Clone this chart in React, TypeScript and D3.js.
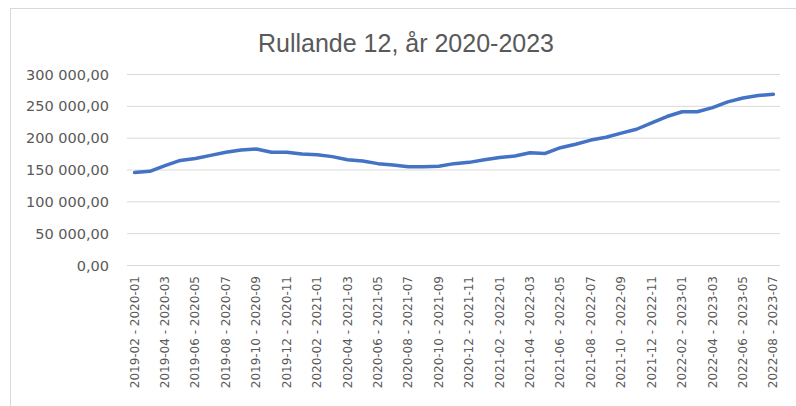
import React from 'react';
import * as d3 from 'd3';

// start months of each rolling 12-month window
const startMonths = [
  '2019-02', '2019-03', '2019-04', '2019-05', '2019-06', '2019-07', '2019-08', '2019-09', '2019-10', '2019-11', '2019-12',
  '2020-01', '2020-02', '2020-03', '2020-04', '2020-05', '2020-06', '2020-07', '2020-08', '2020-09', '2020-10', '2020-11', '2020-12',
  '2021-01', '2021-02', '2021-03', '2021-04', '2021-05', '2021-06', '2021-07', '2021-08', '2021-09', '2021-10', '2021-11', '2021-12',
  '2022-01', '2022-02', '2022-03', '2022-04', '2022-05', '2022-06', '2022-07', '2022-08',
];
const endMonths = [
  '2020-01', '2020-02', '2020-03', '2020-04', '2020-05', '2020-06', '2020-07', '2020-08', '2020-09', '2020-10', '2020-11',
  '2020-12', '2021-01', '2021-02', '2021-03', '2021-04', '2021-05', '2021-06', '2021-07', '2021-08', '2021-09', '2021-10', '2021-11',
  '2021-12', '2022-01', '2022-02', '2022-03', '2022-04', '2022-05', '2022-06', '2022-07', '2022-08', '2022-09', '2022-10', '2022-11',
  '2022-12', '2023-01', '2023-02', '2023-03', '2023-04', '2023-05', '2023-06', '2023-07',
];
const values = [
  146000, 148000, 157000, 165000, 168000, 173000, 178000, 181500, 183000, 178000, 178000,
  175000, 174000, 171000, 166000, 164000, 160000, 158000, 155000, 155000, 156000, 160000, 162000,
  166000, 169500, 172000, 177000, 176000, 185000, 190500, 197000, 201500, 208000, 214000, 224000,
  234000, 241500, 241500, 248000, 257000, 263000, 267000, 269000,
];
const yTicks = [0, 50000, 100000, 150000, 200000, 250000, 300000];
const title = 'Rullande 12, år 2020-2023';

const categories = startMonths.map((s, i) => `${s} - ${endMonths[i]}`);

const fmt = (v: number) => {
  const s = d3.format(',.2f')(v);
  return s.replace(/,/g, ' ').replace('.', ',');
};

export default function App() {
  const W = 796;
  const H = 406;
  const left = 127;
  const right = 781;
  const top = 74.5;
  const bottom = 265.5;

  const x = d3.scaleBand<string>().domain(categories).range([left, right]);
  const y = d3.scaleLinear().domain([0, 300000]).range([bottom, top]);

  const line = d3
    .line<number>()
    .x((_, i) => (x(categories[i]) as number) + x.bandwidth() / 2)
    .y((d) => y(d));

  const grey = '#595959';

  return (
    <svg width={W} height={H} style={{ position: 'absolute', left: 0, top: 0, background: '#fff' }}>
      <rect x={10.5} y={8.5} width={W} height={H} fill="#fff" stroke="#d9d9d9" />
      <text x={406} y={52} textAnchor="middle" fill={grey} fontFamily="Liberation Sans, Arial" fontSize={25}>
        {title}
      </text>
      {yTicks.map((t) => (
        <g key={t}>
          <line x1={left} x2={right - 1} y1={y(t)} y2={y(t)} stroke="#d9d9d9" strokeWidth={1} />
          <text x={109} y={y(t)} dy="0.35em" textAnchor="end" fill={grey} fontFamily="DejaVu Sans" fontSize={14.5}>
            {fmt(t)}
          </text>
        </g>
      ))}
      {categories.map((c, i) =>
        i % 2 === 0 ? (
          <text
            key={c}
            transform={`translate(${(x(c) as number) + x.bandwidth() / 2 + 4},276) rotate(-90)`}
            textAnchor="end"
            fill={grey}
            fontFamily="DejaVu Sans"
            fontSize={12}
          >
            {c}
          </text>
        ) : null
      )}
      <path d={line(values) || ''} fill="none" stroke="#4472c4" strokeWidth={3.5} strokeLinejoin="round" strokeLinecap="round" />
    </svg>
  );
}
